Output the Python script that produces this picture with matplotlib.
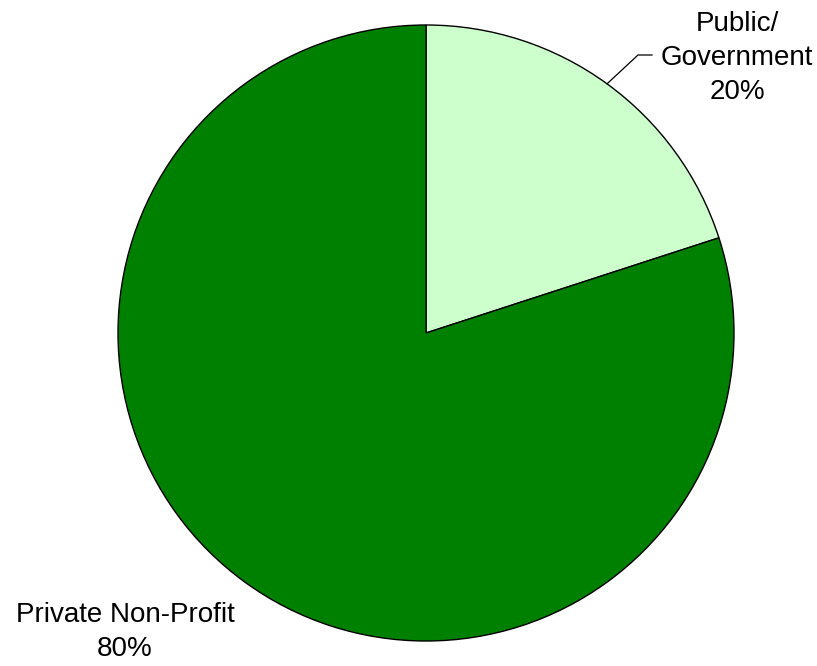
import numpy as np
import matplotlib.pyplot as plt

plt.rcParams['font.family'] = ['Liberation Sans', 'DejaVu Sans']

categories = ['Public/\nGovernment', 'Private Non-Profit']
shares = [20, 80]
colors = ['#CCFFCC', '#008000']

W, H = 817, 666
fig = plt.figure(figsize=(W / 100, H / 100), dpi=100)
ax = fig.add_axes([0, 0, 1, 1])

cx, cy, r = 426, H - 333, 308
wedges, _ = ax.pie(shares, colors=colors, startangle=90, counterclock=False,
                   center=(cx, cy), radius=r, frame=True,
                   wedgeprops=dict(edgecolor='black', linewidth=1.0))
ax.set_xlim(0, W)
ax.set_ylim(0, H)
ax.set_aspect('equal')
ax.axis('off')

# leader line for the small slice
w = wedges[0]
mid = np.deg2rad((w.theta1 + w.theta2) / 2)
x0, y0 = cx + r * np.cos(mid), cy + r * np.sin(mid)
ax.plot([x0, 638, 652], [y0, H - 55, H - 55], color='black', lw=0.9)

ax.text(737, H - 58, f'{categories[0]}\n{shares[0]}%', ha='center', va='center',
        fontsize=20, linespacing=1.4)
ax.text(125, H - 632, f'{categories[1]}\n{shares[1]}%', ha='center', va='center',
        fontsize=20, linespacing=1.4)

fig.savefig('out.png', dpi=100)
